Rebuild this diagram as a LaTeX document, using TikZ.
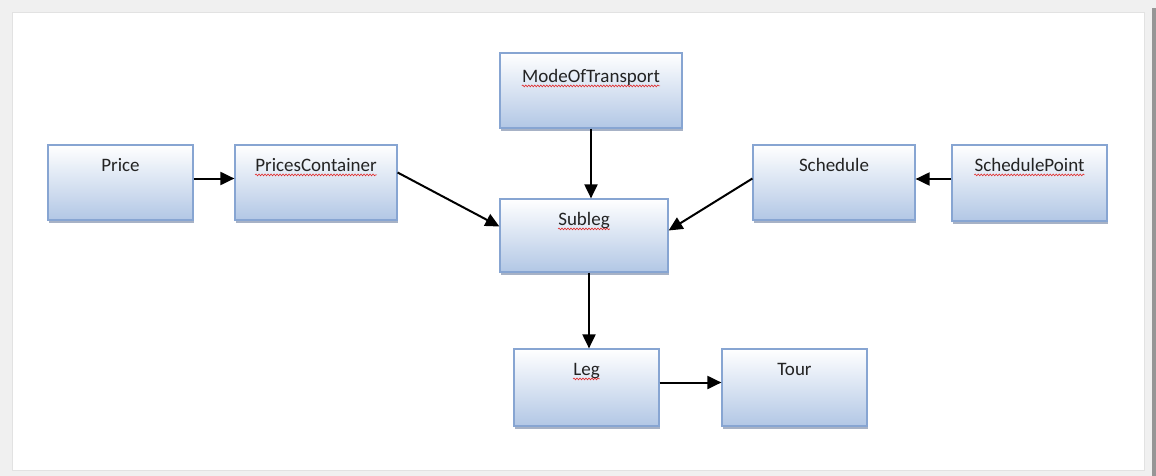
\documentclass[tikz,border=0pt]{standalone}
\usepackage{fontspec}
\setmainfont{Carlito}
\usetikzlibrary{arrows.meta,calc,shadows,decorations.pathmorphing}

\definecolor{pagegray}{RGB}{240,240,240}
\definecolor{framegray}{RGB}{226,226,226}
\definecolor{edgegray}{RGB}{150,150,150}
\definecolor{boxline}{RGB}{135,165,210}
\definecolor{boxbottom}{RGB}{178,199,229}
\definecolor{boxshadow}{RGB}{120,138,168}
\definecolor{labeltext}{RGB}{35,35,35}
\definecolor{spellred}{RGB}{225,40,40}

\tikzset{
  classbox/.style={draw=boxline, line width=1.2pt, inner sep=0pt,
    top color=white, bottom color=boxbottom,
    drop shadow={shadow xshift=1pt, shadow yshift=-3pt, fill=boxshadow, opacity=0.65}},
  classname/.style={anchor=base, inner sep=0pt, font=\fontsize{19}{21}\selectfont, text=labeltext},
  link/.style={draw=black, line width=2pt, -{Triangle[length=14pt,width=13pt]}},
  squiggle/.style={draw=spellred, line width=0.6pt,
    decorate, decoration={snake, amplitude=0.9pt, segment length=3pt}}
}

\begin{document}
\begin{tikzpicture}[x=1pt, y=-1pt]
  % page and frame
  \useasboundingbox (0,0) rectangle (1156,476);
  \fill[pagegray] (0,0) rectangle (1156,476);
  \filldraw[fill=white, draw=framegray, line width=1pt] (12,13) rectangle (1144,470);
  \fill[edgegray] (1152,8) rectangle (1156,476);

  % class boxes
  \node[classbox, minimum width=145pt, minimum height=75pt] (price)  at (120.5,182.5) {};
  \node[classbox, minimum width=162pt, minimum height=75pt] (prices) at (316,182.5) {};
  \node[classbox, minimum width=182pt, minimum height=75pt] (mode)   at (591,90.5) {};
  \node[classbox, minimum width=168pt, minimum height=73pt] (subleg) at (584,235.5) {};
  \node[classbox, minimum width=162pt, minimum height=75pt] (sched)  at (834,182.5) {};
  \node[classbox, minimum width=155pt, minimum height=76pt] (spoint) at (1029.5,183) {};
  \node[classbox, minimum width=145pt, minimum height=77pt] (leg)    at (586.5,387.5) {};
  \node[classbox, minimum width=145pt, minimum height=77pt] (tour)   at (794.5,387.5) {};

  % class names
  \node[classname] (price-t)  at ($(price.north)+(0,27)$)  {Price};
  \node[classname] (prices-t) at ($(prices.north)+(0,27)$) {PricesContainer};
  \node[classname] (mode-t)   at ($(mode.north)+(0,30)$)   {ModeOfTransport};
  \node[classname] (subleg-t) at ($(subleg.north)+(0,27)$) {Subleg};
  \node[classname] (sched-t)  at ($(sched.north)+(0,27)$)  {Schedule};
  \node[classname] (spoint-t) at ($(spoint.north)+(0,27)$) {SchedulePoint};
  \node[classname] (leg-t)    at ($(leg.north)+(0,27)$)    {Leg};
  \node[classname] (tour-t)   at ($(tour.north)+(0,27)$)   {Tour};

  % spell-check underlines
  \foreach \t in {prices-t, mode-t, subleg-t, spoint-t, leg-t}
    \draw[squiggle] ($(\t.base west)+(0,3.5)$) -- ($(\t.base east)+(0,3.5)$);

  % associations
  \draw[link] ([yshift=4pt]price.east) -- ([yshift=4pt]prices.west);
  \draw[link] ([yshift=10pt]prices.east) -- ([yshift=9pt]subleg.west);
  \draw[link] (mode.south) -- (mode.south |- subleg.north);
  \draw[link] ([yshift=4pt]sched.west) -- ([yshift=5pt]subleg.east);
  \draw[link] ([yshift=4pt]spoint.west) -- ([yshift=4pt]spoint.west -| sched.east);
  \draw[link] ([xshift=5pt]subleg.south) -- ([xshift=5pt]subleg.south |- leg.north);
  \draw[link] ([yshift=5pt]leg.east) -- ([yshift=5pt]tour.west);
\end{tikzpicture}
\end{document}
